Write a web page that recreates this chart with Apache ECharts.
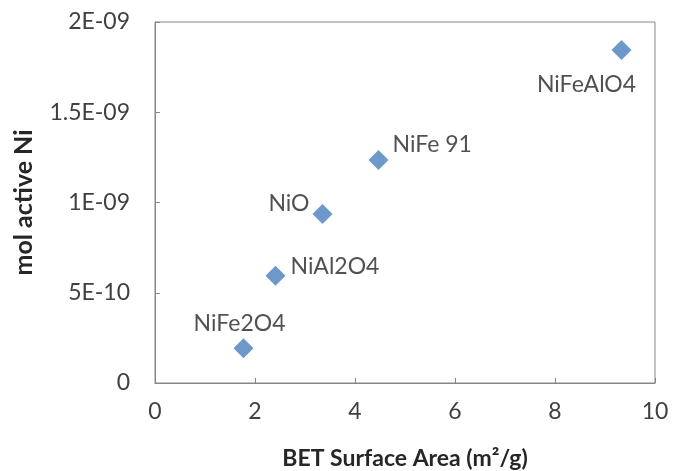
<!DOCTYPE html>
<html><head><meta charset="utf-8">
<script src="https://cdn.jsdelivr.net/npm/echarts@6/dist/echarts.min.js"></script>
<style>html,body{margin:0;padding:0;background:#fff}#c{width:673px;height:471px}</style>
</head><body><div id="c"></div>
<script>
const names = ['NiFe2O4','NiAl2O4','NiO','NiFe 91','NiFeAlO4'];
const bet = [1.77, 2.41, 3.35, 4.47, 9.33];
const molNi = [1.92e-10, 5.94e-10, 9.36e-10, 1.235e-9, 1.845e-9];
const yTicks = {0:'0', 5e-10:'5E-10', 1e-9:'1E-09', 1.5e-9:'1.5E-09', 2e-9:'2E-09'};

const labelPos = [
  {position:'top', offset:[-4,2]},
  {position:'right', offset:[0,-9]},
  {position:'left', offset:[2,-10]},
  {position:'right', offset:[-1,-16]},
  {position:'bottom', offset:[-35,8]}
];
const FONT = 'Lato, "Open Sans", sans-serif';
const chart = echarts.init(document.getElementById('c'));
chart.setOption({
  animation:false,
  textStyle:{fontFamily:FONT},
  grid:{left:155,right:18,top:22,bottom:88,show:true,borderColor:'#868686',borderWidth:1,
    outerBoundsMode:'none',containLabel:false},
  xAxis:{type:'value',min:0,max:10,interval:2,
    axisLine:{lineStyle:{color:'#868686'}},
    axisTick:{inside:true,length:5,lineStyle:{color:'#868686'}},
    splitLine:{show:false},
    axisLabel:{color:'#404040',fontSize:23,margin:17,fontFamily:FONT},
    name:'BET Surface Area (m²/g)',nameLocation:'middle',nameGap:64,
    nameTextStyle:{color:'#262626',fontSize:23,fontWeight:'bold',fontFamily:FONT}
  },
  yAxis:{type:'value',min:0,max:2e-9,interval:5e-10,
    axisLine:{lineStyle:{color:'#868686'}},
    axisTick:{inside:true,length:5,lineStyle:{color:'#868686'}},
    splitLine:{show:false},
    axisLabel:{color:'#404040',fontSize:23,margin:25,fontFamily:FONT,
      formatter:v=>{for(const k in yTicks){if(Math.abs(+k-v)<1e-12)return yTicks[k];}return '';}},
    name:'mol active Ni',nameLocation:'middle',nameGap:119,
    nameTextStyle:{color:'#262626',fontSize:25,fontWeight:'bold',fontFamily:FONT}
  },
  series:[{type:'scatter',symbol:'diamond',symbolSize:20,
    itemStyle:{color:'#4A7EBB'},
    data:bet.map((x,i)=>({value:[x,molNi[i]],name:names[i],
      label:Object.assign({show:true,formatter:names[i],color:'#262626',fontSize:23,fontFamily:FONT},labelPos[i])}))
  }]
});
</script></body></html>
